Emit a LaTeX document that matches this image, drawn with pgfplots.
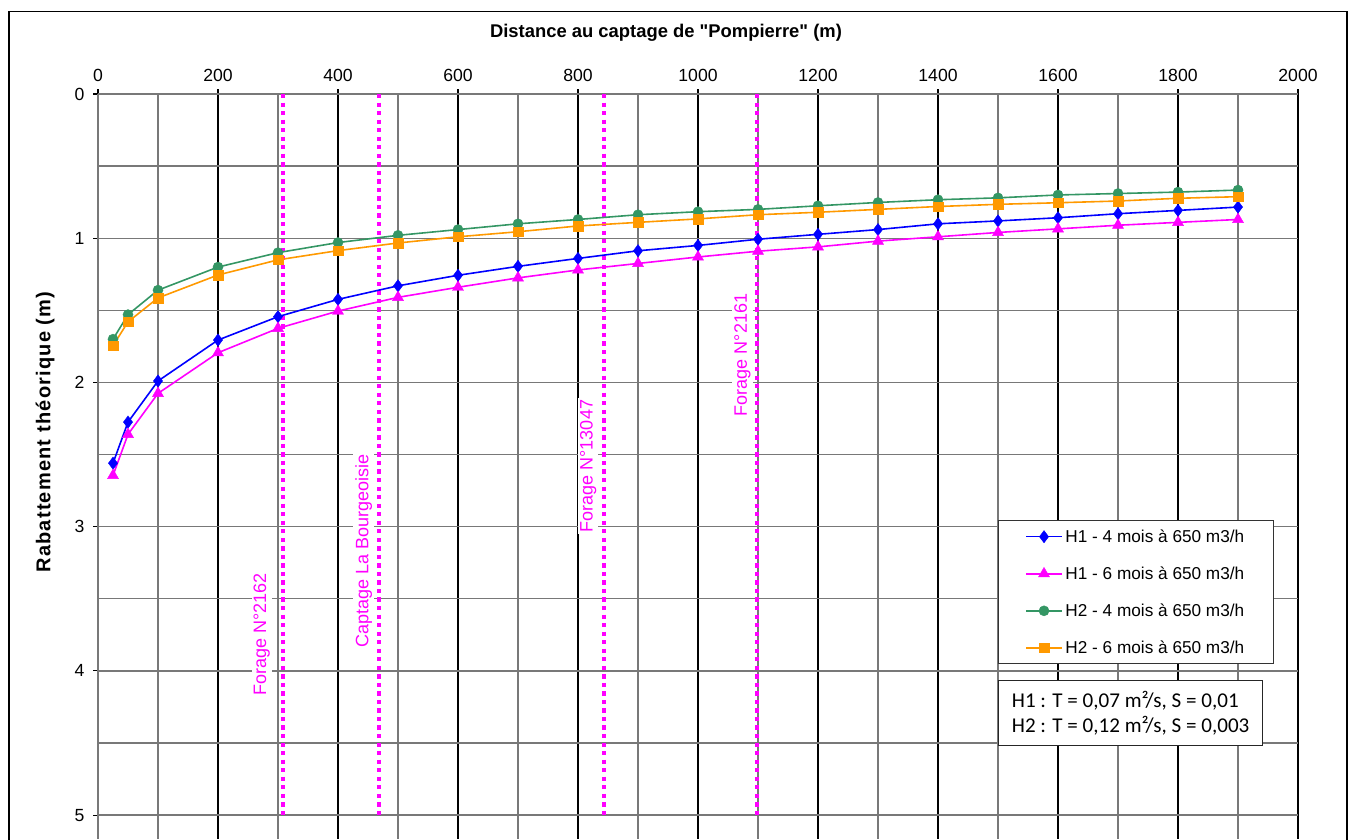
\documentclass[border=0pt]{standalone}
\usepackage{fontspec}
\setmainfont{Liberation Sans}
\newfontfamily\titlefont{Liberation Sans}[Ligatures=TeXOff]
\newfontfamily\ylabfont{Liberation Sans}[LetterSpace=6]
\newfontfamily\carlito{Carlito}
\usepackage{pgfplots}
\pgfplotsset{compat=1.18}
\definecolor{cblue}{RGB}{0,0,255}
\definecolor{cmag}{RGB}{255,0,255}
\definecolor{cgreen}{RGB}{52,150,100}
\definecolor{corange}{RGB}{255,153,0}
\definecolor{gridgray}{RGB}{120,120,120}
\begin{document}
\begin{tikzpicture}
\path[use as bounding box] (0,0) rectangle (1013.25pt,-629.25pt);
\clip (0,0) rectangle (1013.25pt,-629.25pt);
\draw[line width=1.1pt, black] (6.75pt,-8.8pt) rectangle (1010.25pt,-660pt);
\begin{axis}[
  at={(73.5pt,-70.5pt)}, anchor=north west,
  scale only axis, width=900pt, height=558.75pt,
  xmin=0, xmax=2000, ymin=0, ymax=5.166,
  y dir=reverse,
  axis x line*=top, axis y line*=left,
  axis line style={gridgray, line width=1pt},
  xtick={0,200,...,2000}, ytick={0,1,...,5},
  minor x tick num=1, minor y tick num=1,
  grid=both,
  major x grid style={black, line width=1pt},
  minor x grid style={gridgray, line width=1pt},
  major y grid style={gridgray, line width=1pt},
  minor y grid style={gridgray, line width=1pt},
  tick align=outside, major tick length=3.75pt, minor tick length=0pt,
  tick style={black, line width=0.8pt},
  /pgf/number format/assume math mode=true,
  /pgf/number format/1000 sep={},
  scaled ticks=false,
  xticklabel style={font=\fontsize{13.2}{15}\selectfont},
  yticklabel style={font=\fontsize{13.2}{15}\selectfont},
  xticklabel shift=2pt, yticklabel shift=3pt,
  legend style={at={(0.75,0.428)}, anchor=north west, draw=black!80, line width=0.8pt,
    fill=white, font=\fontsize{12.9}{15}\selectfont, inner xsep=20pt, inner ysep=4.5pt,
    row sep=12.8pt, /tikz/every even column/.append style={column sep=3pt}},
  legend cell align=left,
  legend image code/.code={\draw[mark repeat=2,mark phase=2,#1] plot coordinates {(0pt,0pt)(13.5pt,0pt)(27pt,0pt)};},
]
% vertical dotted reference lines
\addplot[cmag, line width=3pt, dash pattern=on 3.2pt off 3.2pt, forget plot] coordinates {(308,0) (308,5)};
\addplot[cmag, line width=3pt, dash pattern=on 3.2pt off 3.2pt, forget plot] coordinates {(468,0) (468,5)};
\addplot[cmag, line width=3pt, dash pattern=on 3.2pt off 3.2pt, forget plot] coordinates {(843,0) (843,5)};
\addplot[cmag, line width=3pt, dash pattern=on 3.2pt off 3.2pt, forget plot] coordinates {(1098,0) (1098,5)};

\addplot[cblue, line width=1.2pt, mark=diamond*, mark size=4.6pt, mark options={solid, fill=cblue, draw=cblue, line width=0.3pt}] coordinates {
(25,2.56) (50,2.275) (100,1.99) (200,1.706) (300,1.544) (400,1.424) (500,1.33) (600,1.257) (700,1.195) (800,1.14) (900,1.087) (1000,1.05) (1100,1.007) (1200,0.973) (1300,0.94) (1400,0.90) (1500,0.88) (1600,0.858) (1700,0.83) (1800,0.807) (1900,0.784)};
\addlegendentry{H1 - 4 mois à 650 m3/h}

\addplot[cmag, line width=1.2pt, mark=triangle*, mark size=4.8pt, mark options={solid, fill=cmag, draw=cmag, line width=0.3pt}] coordinates {
(25,2.645) (50,2.36) (100,2.076) (200,1.794) (300,1.625) (400,1.505) (500,1.41) (600,1.34) (700,1.275) (800,1.22) (900,1.175) (1000,1.13) (1100,1.09) (1200,1.06) (1300,1.02) (1400,0.99) (1500,0.96) (1600,0.935) (1700,0.91) (1800,0.89) (1900,0.87)};
\addlegendentry{H1 - 6 mois à 650 m3/h}

\addplot[cgreen, line width=1.2pt, mark=*, mark size=3.8pt, mark options={solid, fill=cgreen, draw=cgreen, line width=0.3pt}] coordinates {
(25,1.70) (50,1.53) (100,1.36) (200,1.20) (300,1.10) (400,1.03) (500,0.98) (600,0.94) (700,0.90) (800,0.87) (900,0.837) (1000,0.816) (1100,0.80) (1200,0.775) (1300,0.752) (1400,0.733) (1500,0.72) (1600,0.70) (1700,0.69) (1800,0.68) (1900,0.666)};
\addlegendentry{H2 - 4 mois à 650 m3/h}

\addplot[corange, line width=1.2pt, mark=square*, mark size=3.6pt, mark options={solid, fill=corange, draw=corange, line width=0.3pt}] coordinates {
(25,1.745) (50,1.58) (100,1.414) (200,1.255) (300,1.15) (400,1.086) (500,1.033) (600,0.99) (700,0.955) (800,0.915) (900,0.89) (1000,0.866) (1100,0.837) (1200,0.82) (1300,0.80) (1400,0.78) (1500,0.765) (1600,0.754) (1700,0.742) (1800,0.723) (1900,0.712)};
\addlegendentry{H2 - 6 mois à 650 m3/h}

\node[rotate=90, fill=white, text=cmag, font=\fontsize{13.5}{15}\selectfont, inner sep=1.5pt] at (axis cs:273,3.75) {Forage N°2162};
\node[rotate=90, fill=white, text=cmag, font=\fontsize{13.5}{15}\selectfont, inner sep=1.5pt] at (axis cs:443,3.17) {Captage La Bourgeoisie};
\node[rotate=90, fill=white, text=cmag, font=\fontsize{13.5}{15}\selectfont, inner sep=1.5pt] at (axis cs:817,2.58) {Forage N°13047};
\node[rotate=90, fill=white, text=cmag, font=\fontsize{13.5}{15}\selectfont, inner sep=1.5pt] at (axis cs:1074,1.81) {Forage N°2161};
\end{axis}
\node[font=\titlefont\bfseries\fontsize{13.8}{16}\selectfont] at (499.5pt,-24.75pt) {Distance au captage de "Pompierre" (m)};
\node[rotate=90, font=\ylabfont\bfseries\fontsize{15}{17}\selectfont] at (33.75pt,-324pt) {Rabattement théorique (m)};
\node[draw=black!85, line width=0.9pt, fill=white, anchor=north west, minimum width=198pt, minimum height=48.75pt, align=left, inner xsep=9pt, font=\carlito\fontsize{15.8}{18.75}\selectfont] at (748.5pt,-510pt) {H1 : T = 0,07 m²/s, S = 0,01\\H2 : T = 0,12 m²/s, S = 0,003};
\end{tikzpicture}
\end{document}
